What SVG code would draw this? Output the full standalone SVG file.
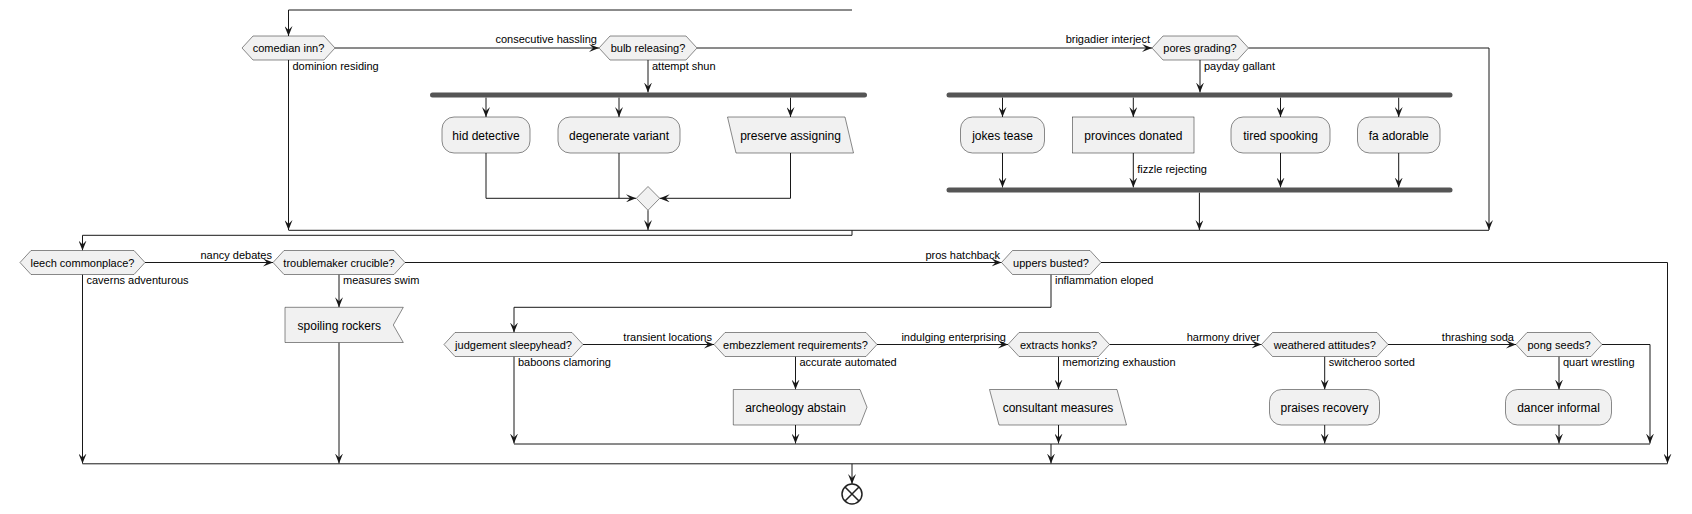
<svg xmlns="http://www.w3.org/2000/svg" width="1692" height="514" viewBox="0 0 1692 514">
<style>
.n{fill:#F1F1F1;stroke:#181818;stroke-width:0.5}
.bar{fill:#555555}
.c{fill:none;stroke:#181818;stroke-width:1}
.a{marker-end:url(#ah)}
text{font-family:"Liberation Sans",Arial,sans-serif;fill:#000}
.t{font-size:12px;text-anchor:middle}
.h{font-size:11px;text-anchor:middle}
.l{font-size:11px}
.le{font-size:11px;text-anchor:end}
</style>
<defs>
<marker id="ah" viewBox="0 0 10 8" refX="10" refY="4" markerWidth="10" markerHeight="8" markerUnits="userSpaceOnUse" orient="auto"><path d="M0,0 L10,4 L0,8 L4,4 Z" fill="#181818"/></marker>
</defs>
<rect width="1692" height="514" fill="#FFFFFF"/>
<g id="connectors">
<path class="c a" d="M852,10 H288.5 V36"/>
<path class="c a" d="M335,48 H599"/>
<path class="c a" d="M288.5,60 V230"/>
<path class="c a" d="M697,48 H1152"/>
<path class="c a" d="M648,60 V92.5"/>
<path class="c a" d="M486,97.5 V117"/>
<path class="c a" d="M619,97.5 V117"/>
<path class="c a" d="M790.5,97.5 V117"/>
<path class="c a" d="M486,153 V198.3 H636"/>
<path class="c" d="M619,153 V198.3"/>
<path class="c a" d="M790.5,153 V198.3 H659.7"/>
<path class="c a" d="M648,210.3 V230"/>
<path class="c a" d="M1200,60 V92.5"/>
<path class="c a" d="M1002.5,97.5 V117"/>
<path class="c a" d="M1133.3,97.5 V117"/>
<path class="c a" d="M1280.5,97.5 V117"/>
<path class="c a" d="M1398.7,97.5 V117"/>
<path class="c a" d="M1002.5,153 V187.5"/>
<path class="c a" d="M1133.3,153 V187.5"/>
<path class="c a" d="M1280.5,153 V187.5"/>
<path class="c a" d="M1398.7,153 V187.5"/>
<path class="c a" d="M1199.4,192.5 V230"/>
<path class="c a" d="M1248.5,48 H1489 V230"/>
<path class="c" d="M288.5,230.3 H1489"/>
<path class="c a" d="M852,230.3 V235.3 H82.5 V250.5"/>
<path class="c a" d="M145,262.5 H273"/>
<path class="c a" d="M82.5,274.5 V463.5"/>
<path class="c a" d="M405,262.5 H1001.5"/>
<path class="c a" d="M339,274.5 V307.3"/>
<path class="c a" d="M339,342.5 V463.5"/>
<path class="c a" d="M1101,262.5 H1667.5 V463.5"/>
<path class="c a" d="M1051,274.5 V307.3 H514 V332.5"/>
<path class="c a" d="M583,344.5 H714"/>
<path class="c a" d="M514,356.5 V443.5"/>
<path class="c a" d="M795.5,356.5 V389.5"/>
<path class="c a" d="M795.5,425 V443.5"/>
<path class="c a" d="M877,344.5 H1008"/>
<path class="c a" d="M1058.5,356.5 V389.5"/>
<path class="c a" d="M1058.5,425 V443.5"/>
<path class="c a" d="M1109.5,344.5 H1261.5"/>
<path class="c a" d="M1324.7,356.5 V389.5"/>
<path class="c a" d="M1324.7,425 V443.5"/>
<path class="c a" d="M1388,344.5 H1516"/>
<path class="c a" d="M1559,356.5 V389.5"/>
<path class="c a" d="M1559,425 V443.5"/>
<path class="c a" d="M1602,344.5 H1650 V443.5"/>
<path class="c" d="M514,444 H1650"/>
<path class="c a" d="M1051,444 V463.5"/>
<path class="c" d="M82.5,463.8 H1667.5"/>
<path class="c a" d="M852,463.8 V484"/>
<text class="le" x="597" y="43">consecutive hassling</text>
<text class="l" x="292.5" y="69.5">dominion residing</text>
<text class="le" x="1150" y="43">brigadier interject</text>
<text class="l" x="652" y="69.5">attempt shun</text>
<text class="l" x="1204" y="69.5">payday gallant</text>
<text class="l" x="1137.3" y="173">fizzle rejecting</text>
<text class="le" x="272" y="258.5">nancy debates</text>
<text class="l" x="86.5" y="284">caverns adventurous</text>
<text class="le" x="1000" y="258.5">pros hatchback</text>
<text class="l" x="343" y="284">measures swim</text>
<text class="l" x="1055" y="284">inflammation eloped</text>
<text class="le" x="712" y="340.5">transient locations</text>
<text class="l" x="518" y="366">baboons clamoring</text>
<text class="l" x="799.5" y="366">accurate automated</text>
<text class="le" x="1006" y="340.5">indulging enterprising</text>
<text class="l" x="1062.5" y="366">memorizing exhaustion</text>
<text class="le" x="1260" y="340.5">harmony driver</text>
<text class="l" x="1328.7" y="366">switcheroo sorted</text>
<text class="le" x="1514" y="340.5">thrashing soda</text>
<text class="l" x="1563" y="366">quart wrestling</text>
</g>
<g id="comedian"><polygon class="n" points="242,48 253,36 324,36 335,48 324,60 253,60"/><text class="h" x="288.5" y="52">comedian inn?</text></g>
<g id="bulb"><polygon class="n" points="599,48 610,36 686,36 697,48 686,60 610,60"/><text class="h" x="648" y="52">bulb releasing?</text></g>
<g id="pores"><polygon class="n" points="1152,48 1163,36 1237.5,36 1248.5,48 1237.5,60 1163,60"/><text class="h" x="1200" y="52">pores grading?</text></g>
<g id="fork1"><rect class="bar" x="430" y="92.5" width="437" height="5" rx="2.5"/></g>
<g id="hid"><rect class="n" x="442" y="117" width="88" height="36" rx="12"/><text class="t" x="486" y="139.5">hid detective</text></g>
<g id="degenerate"><rect class="n" x="558" y="117" width="122" height="36" rx="12"/><text class="t" x="619" y="139.5">degenerate variant</text></g>
<g id="preserve"><polygon class="n" points="727.5,117 845,117 853.5,153 736,153"/><text class="t" x="790.5" y="139.5">preserve assigning</text></g>
<g id="merge1"><polygon class="n" points="648,186.5 659.7,198.3 648,210.3 636.3,198.3"/></g>
<g id="fork2"><rect class="bar" x="946.5" y="92.5" width="506" height="5" rx="2.5"/></g>
<g id="jokes"><rect class="n" x="960.5" y="117" width="84" height="36" rx="12"/><text class="t" x="1002.5" y="139.5">jokes tease</text></g>
<g id="provinces"><rect class="n" x="1072.5" y="117" width="121.5" height="36"/><text class="t" x="1133.3" y="139.5">provinces donated</text></g>
<g id="tired"><rect class="n" x="1231" y="117" width="99" height="36" rx="12"/><text class="t" x="1280.5" y="139.5">tired spooking</text></g>
<g id="fa"><rect class="n" x="1357.5" y="117" width="82.5" height="36" rx="12"/><text class="t" x="1398.7" y="139.5">fa adorable</text></g>
<g id="join2"><rect class="bar" x="946.5" y="187.5" width="506" height="5" rx="2.5"/></g>
<g id="leech"><polygon class="n" points="20,262.5 31,250.5 134,250.5 145,262.5 134,274.5 31,274.5"/><text class="h" x="82.5" y="266.5">leech commonplace?</text></g>
<g id="troublemaker"><polygon class="n" points="273,262.5 284,250.5 394,250.5 405,262.5 394,274.5 284,274.5"/><text class="h" x="339" y="266.5">troublemaker crucible?</text></g>
<g id="spoiling"><polygon class="n" points="285,307.3 403.3,307.3 393.3,325 403.3,342.5 285,342.5"/><text class="t" x="339.3" y="329.5">spoiling rockers</text></g>
<g id="uppers"><polygon class="n" points="1001.5,262.5 1012.5,250.5 1090,250.5 1101,262.5 1090,274.5 1012.5,274.5"/><text class="h" x="1051" y="266.5">uppers busted?</text></g>
<g id="judgement"><polygon class="n" points="444,344.5 455,332.5 572,332.5 583,344.5 572,356.5 455,356.5"/><text class="h" x="513.5" y="348.5">judgement sleepyhead?</text></g>
<g id="embezzlement"><polygon class="n" points="714,344.5 725,332.5 866,332.5 877,344.5 866,356.5 725,356.5"/><text class="h" x="795.5" y="348.5">embezzlement requirements?</text></g>
<g id="archeology"><polygon class="n" points="733.3,389.5 860,389.5 867,407.2 860,425 733.3,425"/><text class="t" x="795.5" y="411.5">archeology abstain</text></g>
<g id="extracts"><polygon class="n" points="1008,344.5 1019,332.5 1098.5,332.5 1109.5,344.5 1098.5,356.5 1019,356.5"/><text class="h" x="1058.5" y="348.5">extracts honks?</text></g>
<g id="consultant"><polygon class="n" points="989.5,389.5 1117,389.5 1126.5,425 999,425"/><text class="t" x="1058" y="411.5">consultant measures</text></g>
<g id="weathered"><polygon class="n" points="1261.5,344.5 1272.5,332.5 1377,332.5 1388,344.5 1377,356.5 1272.5,356.5"/><text class="h" x="1324.7" y="348.5">weathered attitudes?</text></g>
<g id="praises"><rect class="n" x="1269.5" y="389.5" width="110" height="35.5" rx="12"/><text class="t" x="1324.5" y="411.5">praises recovery</text></g>
<g id="pong"><polygon class="n" points="1516,344.5 1527,332.5 1591,332.5 1602,344.5 1591,356.5 1527,356.5"/><text class="h" x="1559" y="348.5">pong seeds?</text></g>
<g id="dancer"><rect class="n" x="1505.5" y="389.5" width="106" height="35.5" rx="12"/><text class="t" x="1558.5" y="411.5">dancer informal</text></g>
<g id="end"><circle cx="852" cy="494" r="10" fill="#FFFFFF" stroke="#222222" stroke-width="1.5"/><path d="M845,487 L859,501 M859,487 L845,501" stroke="#222222" stroke-width="1.5"/></g>
</svg>
